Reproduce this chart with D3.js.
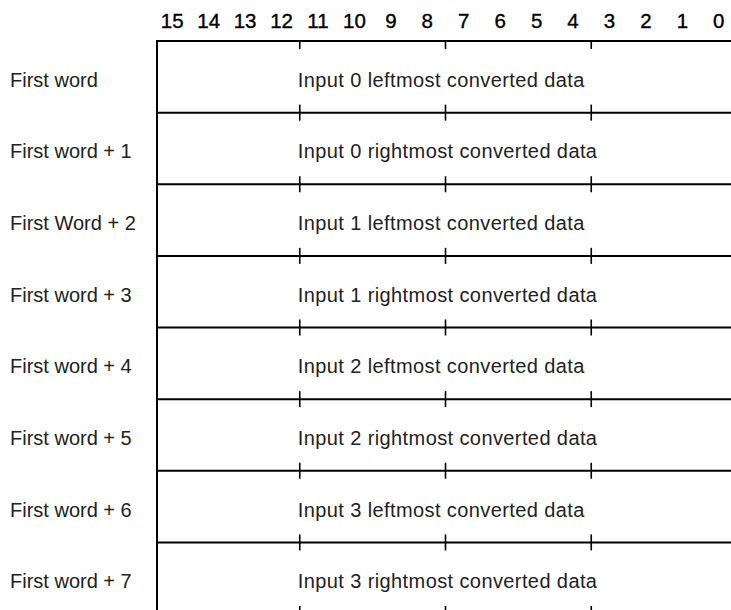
<!DOCTYPE html>
<html>
<head>
<meta charset="utf-8">
<script src="https://cdn.jsdelivr.net/npm/d3@7"></script>
<style>
  html, body { margin: 0; padding: 0; background: #fff; }
  svg { display: block; }
  text { font-family: "Liberation Sans", Arial, Helvetica, sans-serif; }
</style>
</head>
<body>
<svg id="chart" width="731" height="610"></svg>
<script>
// ---- data ----
const bits = [15, 14, 13, 12, 11, 10, 9, 8, 7, 6, 5, 4, 3, 2, 1, 0];
const groupBoundaries = [12, 8, 4]; // tick after these bits (between b and b-1)
const rowLabels = [
  "First word", "First word + 1", "First Word + 2", "First word + 3",
  "First word + 4", "First word + 5", "First word + 6", "First word + 7"
];
const rowContents = [
  "Input 0 leftmost converted data", "Input 0 rightmost converted data",
  "Input 1 leftmost converted data", "Input 1 rightmost converted data",
  "Input 2 leftmost converted data", "Input 2 rightmost converted data",
  "Input 3 leftmost converted data", "Input 3 rightmost converted data"
];

// ---- layout ----
const W = 731, H = 610;
const svg = d3.select("#chart");

const x = d3.scaleBand().domain(bits).range([154, 737]).padding(0);
const y = d3.scaleLinear().domain([0, rowLabels.length]).range([41, 614]);
const frameLeft = 157;
const rowIdx = d3.range(rowLabels.length);
const lineIdx = d3.range(rowLabels.length + 1);

// bit number header
svg.append("g").selectAll("text").data(bits).join("text")
  .attr("x", d => x(d) + x.bandwidth() / 2)
  .attr("y", 28)
  .attr("text-anchor", "middle")
  .attr("font-size", 20.5)
  .attr("fill", "#000")
  .attr("stroke", "#000")
  .attr("stroke-width", 0.35)
  .text(d => d);

// horizontal lines
svg.append("g").selectAll("line").data(lineIdx).join("line")
  .attr("x1", frameLeft).attr("x2", W)
  .attr("y1", d => y(d)).attr("y2", d => y(d))
  .attr("stroke", "#000").attr("stroke-width", 2);

// left vertical line
svg.append("line")
  .attr("x1", frameLeft).attr("x2", frameLeft)
  .attr("y1", y(0) - 1).attr("y2", H)
  .attr("stroke", "#000").attr("stroke-width", 2);

// group tick marks on each horizontal line
const tickX = groupBoundaries.map(b => x(b) + x.bandwidth());
const tickData = [];
lineIdx.forEach(k => tickX.forEach(tx => tickData.push({k, tx})));
svg.append("g").selectAll("line").data(tickData).join("line")
  .attr("x1", d => d.tx).attr("x2", d => d.tx)
  .attr("y1", d => d.k === 0 ? y(0) : y(d.k) - 8)
  .attr("y2", d => y(d.k) + 8)
  .attr("stroke", "#000").attr("stroke-width", 1.6);

// row labels
svg.append("g").selectAll("text").data(rowIdx).join("text")
  .attr("x", 10)
  .attr("y", d => (y(d) + y(d + 1)) / 2 + 10)
  .attr("font-size", 20)
  .attr("fill", "#222")
  .text(d => rowLabels[d]);

// row contents
svg.append("g").selectAll("text").data(rowIdx).join("text")
  .attr("x", x(11) - 2)
  .attr("y", d => (y(d) + y(d + 1)) / 2 + 10)
  .attr("font-size", 20)
  .attr("letter-spacing", 0.4)
  .attr("fill", "#222")
  .text(d => rowContents[d]);
</script>
</body>
</html>
